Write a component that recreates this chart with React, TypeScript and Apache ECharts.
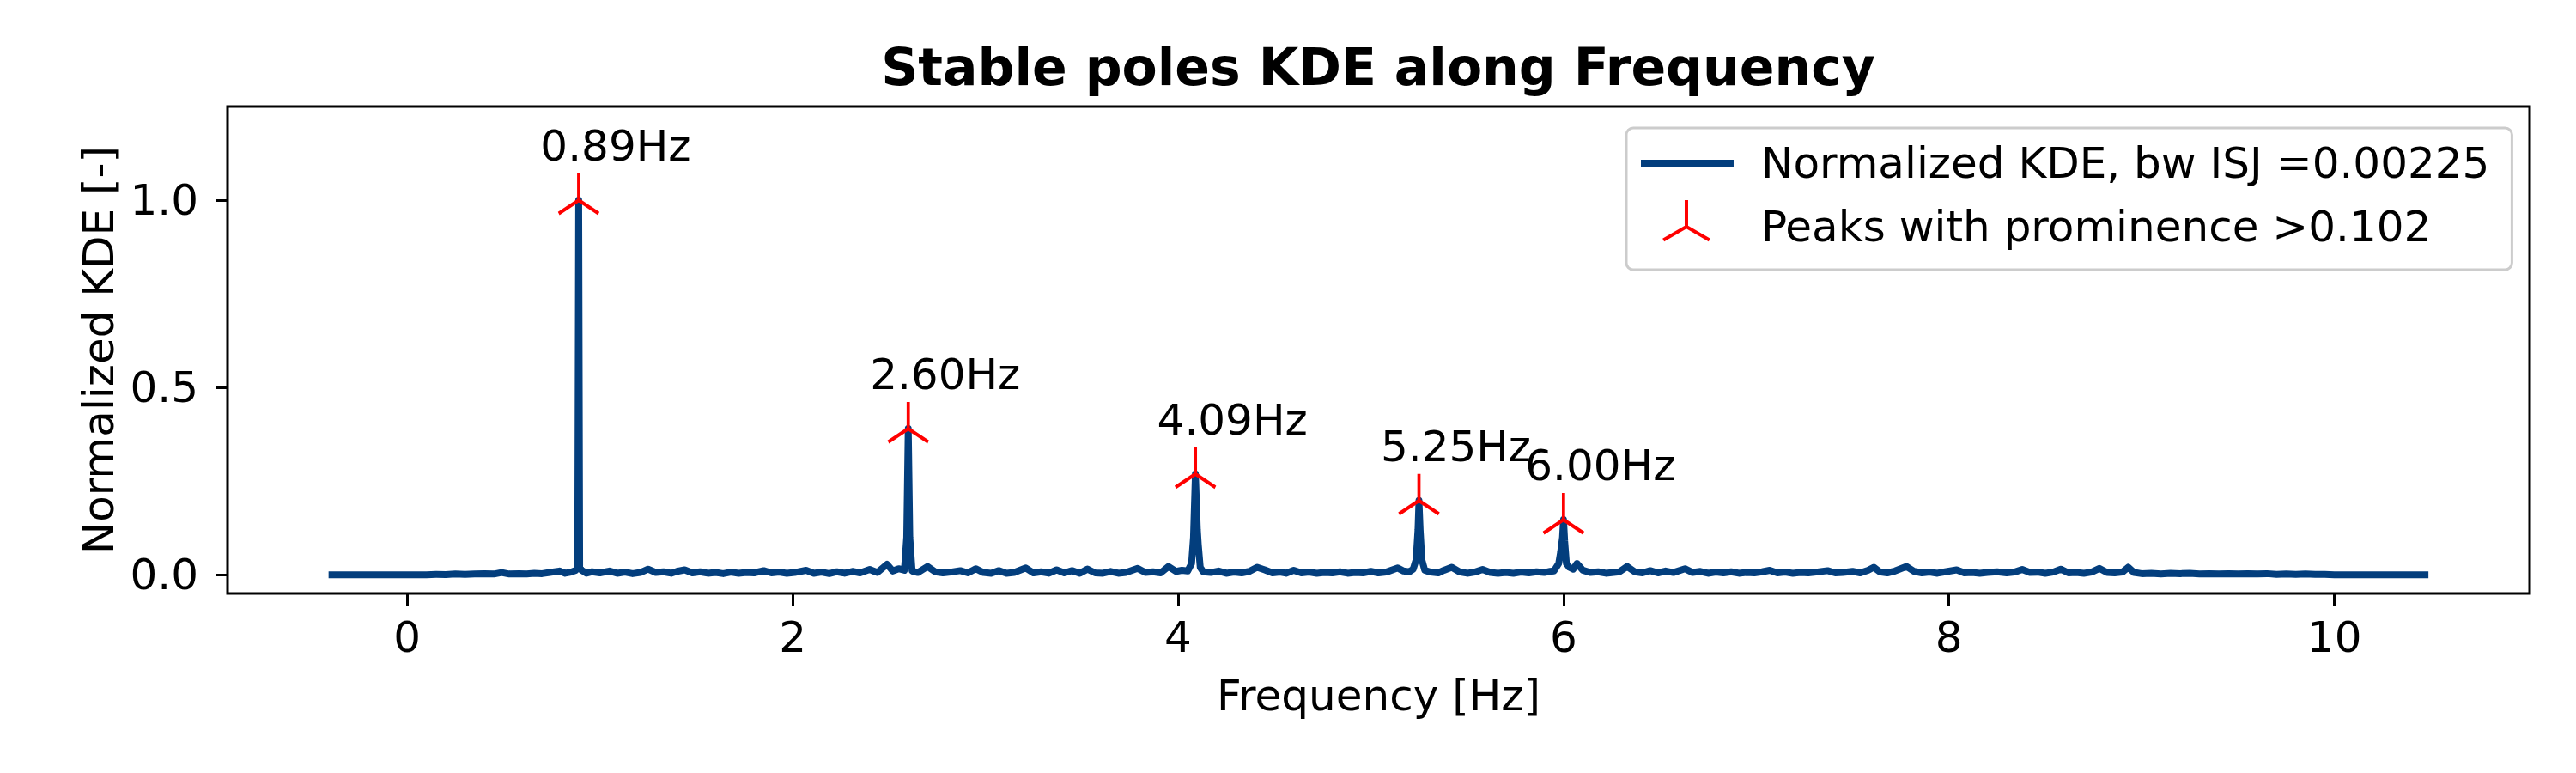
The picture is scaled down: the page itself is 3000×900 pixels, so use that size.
import { useEffect, useRef } from "react";
import * as echarts from "echarts";

// KDE curve, [frequency Hz, normalized KDE]
const kdeLow: [number, number][] = [
  [-0.39, 0], [0.1, 0], [0.15, 0.001], [0.2, 0.0005], [0.25, 0.002], [0.3, 0.001],
  [0.35, 0.002], [0.4, 0.003], [0.45, 0.002], [0.49, 0.006], [0.53, 0.002], [0.58, 0.003],
  [0.62, 0.002], [0.66, 0.004], [0.7, 0.003], [0.74, 0.006], [0.79, 0.01], [0.82, 0.004],
  [0.85, 0.007], [0.875, 0.012], [0.885, 0.02], [0.89, 1.0], [0.895, 0.02], [0.905, 0.012],
  [0.93, 0.004], [0.96, 0.008], [1.0, 0.005], [1.05, 0.01], [1.09, 0.004], [1.13, 0.007],
  [1.17, 0.003], [1.21, 0.006], [1.25, 0.015], [1.29, 0.006], [1.33, 0.008], [1.37, 0.004],
  [1.4, 0.009], [1.44, 0.013], [1.48, 0.005], [1.52, 0.008], [1.56, 0.004], [1.6, 0.006],
  [1.64, 0.003], [1.68, 0.007], [1.72, 0.004], [1.76, 0.006], [1.8, 0.005], [1.85, 0.011],
  [1.89, 0.005], [1.93, 0.007], [1.97, 0.004],
];

const kdeMid: [number, number][] = [
  [2.01, 0.006], [2.07, 0.012], [2.11, 0.004], [2.15, 0.007], [2.19, 0.003], [2.23, 0.008],
  [2.27, 0.004], [2.31, 0.009], [2.35, 0.005], [2.4, 0.014], [2.44, 0.006], [2.49, 0.028],
  [2.52, 0.01], [2.55, 0.016], [2.58, 0.012], [2.592, 0.1], [2.6, 0.39], [2.608, 0.1],
  [2.62, 0.01], [2.65, 0.006], [2.7, 0.022], [2.74, 0.008], [2.78, 0.005], [2.82, 0.007],
  [2.87, 0.011], [2.91, 0.005], [2.95, 0.016], [2.99, 0.006], [3.03, 0.004], [3.07, 0.011],
  [3.11, 0.004], [3.15, 0.006], [3.21, 0.018], [3.25, 0.005], [3.29, 0.008], [3.33, 0.004],
  [3.37, 0.013], [3.41, 0.005], [3.45, 0.011], [3.49, 0.004], [3.53, 0.015], [3.57, 0.005],
  [3.61, 0.004], [3.65, 0.009], [3.69, 0.004], [3.73, 0.006], [3.79, 0.017], [3.83, 0.006],
  [3.87, 0.008], [3.91, 0.005], [3.95, 0.022], [3.99, 0.009], [4.02, 0.012], [4.05, 0.01],
  [4.07, 0.03], [4.08, 0.1], [4.09, 0.269], [4.1, 0.12], [4.105, 0.08], [4.115, 0.02],
  [4.13, 0.008], [4.17, 0.006], [4.21, 0.01], [4.25, 0.004], [4.29, 0.007], [4.33, 0.005],
  [4.37, 0.009], [4.41, 0.02], [4.45, 0.013], [4.49, 0.005], [4.53, 0.007], [4.56, 0.004],
  [4.6, 0.012], [4.64, 0.005], [4.68, 0.007], [4.72, 0.004], [4.76, 0.006], [4.8, 0.005],
  [4.84, 0.008], [4.88, 0.004], [4.92, 0.006], [4.96, 0.005], [5.0, 0.009], [5.04, 0.005],
  [5.08, 0.007], [5.14, 0.018], [5.17, 0.01], [5.2, 0.008], [5.22, 0.015], [5.235, 0.04],
  [5.245, 0.12], [5.25, 0.198], [5.256, 0.12], [5.265, 0.04], [5.28, 0.012], [5.31, 0.007],
  [5.35, 0.005], [5.38, 0.012], [5.42, 0.02], [5.46, 0.008], [5.5, 0.004], [5.54, 0.007],
  [5.58, 0.014], [5.62, 0.006], [5.66, 0.004], [5.7, 0.006], [5.74, 0.004], [5.78, 0.007],
  [5.82, 0.005], [5.86, 0.008], [5.9, 0.006], [5.93, 0.009], [5.95, 0.01], [5.975, 0.03],
  [5.985, 0.06], [5.995, 0.1], [6.0, 0.147], [6.006, 0.09], [6.015, 0.03], [6.03, 0.02],
  [6.05, 0.015],
];

const kdeHigh: [number, number][] = [
  [6.07, 0.03], [6.1, 0.012], [6.14, 0.006], [6.18, 0.008], [6.22, 0.004], [6.26, 0.006],
  [6.29, 0.008], [6.33, 0.022], [6.37, 0.008], [6.41, 0.005], [6.45, 0.011], [6.49, 0.005],
  [6.53, 0.01], [6.57, 0.006], [6.63, 0.016], [6.67, 0.006], [6.71, 0.009], [6.75, 0.004],
  [6.79, 0.007], [6.83, 0.005], [6.87, 0.008], [6.91, 0.004], [6.95, 0.006], [6.99, 0.005],
  [7.03, 0.008], [7.07, 0.012], [7.11, 0.005], [7.15, 0.007], [7.19, 0.004], [7.23, 0.006],
  [7.27, 0.005], [7.31, 0.007], [7.37, 0.011], [7.41, 0.005], [7.45, 0.006], [7.5, 0.009],
  [7.54, 0.005], [7.58, 0.012], [7.61, 0.02], [7.64, 0.008], [7.68, 0.005], [7.72, 0.01],
  [7.78, 0.022], [7.82, 0.009], [7.86, 0.005], [7.9, 0.007], [7.94, 0.004], [7.98, 0.008],
  [8.04, 0.013], [8.08, 0.005], [8.12, 0.006], [8.16, 0.004], [8.2, 0.006], [8.25, 0.008],
  [8.3, 0.005], [8.34, 0.007], [8.38, 0.014], [8.42, 0.006], [8.46, 0.007], [8.5, 0.004],
  [8.54, 0.007], [8.58, 0.015], [8.62, 0.005], [8.66, 0.006], [8.7, 0.004], [8.74, 0.007],
  [8.78, 0.017], [8.82, 0.006], [8.86, 0.005], [8.9, 0.007], [8.93, 0.02], [8.96, 0.006],
  [9.0, 0.003], [9.05, 0.004], [9.1, 0.002], [9.15, 0.004], [9.2, 0.003], [9.25, 0.004],
  [9.3, 0.002], [9.35, 0.003], [9.4, 0.002], [9.45, 0.003], [9.5, 0.002], [9.55, 0.003],
  [9.6, 0.002], [9.65, 0.003], [9.7, 0.001], [9.75, 0.002], [9.8, 0.001], [9.85, 0.002],
  [9.9, 0.001], [9.95, 0.001], [10.0, 0], [10.47, 0],
];

const peakFreqs = [0.89, 2.6, 4.09, 5.25, 6.0];
const peakHeights = [1.0, 0.39, 0.269, 0.198, 0.147];
const peakLabels = ["0.89Hz", "2.60Hz", "4.09Hz", "5.25Hz", "6.00Hz"];

const xTicks = [0, 2, 4, 6, 8, 10];
const yTicks = [0, 0.5, 1.0];

const KDE_NAME = "Normalized KDE, bw ISJ =0.00225";
const PEAK_NAME = "Peaks with prominence >0.102";
const BLUE = "#033e7d";
const RED = "#ff0000";
const FONT = "DejaVu Sans";

// tri_up marker, bbox made symmetric so the centre sits on the point
const triMarker = "path://M0,-31 L0,0 M0,0 L-26.85,15.5 M0,0 L26.85,15.5 M0,31 L0,31.01";
const legendLine = "path://M0,27 L108,27 L108,35 L0,35 Z M135,0 L135,0.01 M0,62 L0,62.01";
const legendTri = "path://M53,0 L53,31 M53,31 L26.15,46.5 M53,31 L79.85,46.5 M0,62 L0,62.01 M135,0 L135,0.01";

export default function App() {
  const chartRef = useRef<HTMLDivElement>(null);

  useEffect(() => {
    const chart = echarts.init(chartRef.current!, null, { renderer: "svg" });

    const kde = [...kdeLow, ...kdeMid, ...kdeHigh];
    const peaks = peakFreqs.map((f, i) => [f, peakHeights[i]]);

    const option = {
      animation: false,
      title: {
        text: "Stable poles KDE along Frequency",
        left: 1605,
        top: 48,
        textAlign: "center",
        padding: 0,
        textStyle: {
          fontFamily: FONT,
          fontSize: 60,
          fontWeight: "bold",
          color: "#000",
          lineHeight: 60,
        },
      },
      legend: {
        orient: "vertical",
        left: 1894,
        top: 149,
        padding: [10, 26, 17, 15],
        itemGap: 10,
        itemWidth: 135,
        itemHeight: 62,
        selectedMode: false,
        backgroundColor: "#fff",
        borderColor: "#cccccc",
        borderWidth: 3,
        borderRadius: 8,
        textStyle: { fontFamily: FONT, fontSize: 50, color: "#000", padding: 0 },
        data: [
          { name: KDE_NAME, icon: legendLine, itemStyle: { color: BLUE, borderWidth: 0, opacity: 1 } },
          {
            name: PEAK_NAME,
            icon: legendTri,
            itemStyle: { color: "transparent", borderColor: RED, borderWidth: 4, opacity: 1 },
          },
        ],
      },
      grid: {
        left: 265,
        right: 54,
        top: 124,
        bottom: 209,
        show: true,
        borderColor: "#000",
        borderWidth: 3,
        outerBoundsMode: "none",
      },
      xAxis: {
        type: "value",
        min: -0.932,
        max: 11.013,
        name: "Frequency [Hz]",
        nameLocation: "middle",
        nameGap: 94,
        nameTextStyle: { fontFamily: FONT, fontSize: 50, color: "#000", lineHeight: 50 },
        axisLine: { show: false, onZero: false },
        splitLine: { show: false },
        axisTick: {
          show: true,
          length: 15,
          customValues: xTicks,
          lineStyle: { color: "#000", width: 3 },
        },
        axisLabel: {
          customValues: xTicks,
          margin: 26,
          fontFamily: FONT,
          fontSize: 50,
          color: "#000",
          formatter: (v: number) => String(v),
        },
      },
      yAxis: {
        type: "value",
        min: -0.05,
        max: 1.25,
        name: "Normalized KDE [-]",
        nameLocation: "middle",
        nameGap: 125,
        nameTextStyle: { fontFamily: FONT, fontSize: 50, color: "#000", lineHeight: 50 },
        axisLine: { show: false, onZero: false },
        splitLine: { show: false },
        axisTick: {
          show: true,
          length: 14,
          customValues: yTicks,
          lineStyle: { color: "#000", width: 3 },
        },
        axisLabel: {
          customValues: yTicks,
          margin: 34,
          fontFamily: FONT,
          fontSize: 50,
          color: "#000",
          formatter: (v: number) => v.toFixed(1),
        },
      },
      series: [
        {
          name: KDE_NAME,
          type: "line",
          data: kde,
          symbol: "none",
          showSymbol: false,
          z: 2,
          itemStyle: { color: BLUE },
          lineStyle: { color: BLUE, width: 8, join: "round", cap: "square" },
          emphasis: { disabled: true },
        },
        {
          name: PEAK_NAME,
          type: "scatter",
          data: peaks,
          symbol: triMarker,
          symbolSize: [53.7, 62.01],
          symbolKeepAspect: true,
          z: 3,
          itemStyle: { color: "transparent", borderColor: RED, borderWidth: 4, opacity: 1 },
          label: {
            show: true,
            position: "top",
            distance: 5,
            offset: [43, 0],
            fontFamily: FONT,
            fontSize: 50,
            lineHeight: 50,
            color: "#000",
            opacity: 1,
            textBorderWidth: 0,
            formatter: (p: { dataIndex: number }) => peakLabels[p.dataIndex],
          },
          emphasis: { disabled: true },
        },
      ],
    };

    chart.setOption(option);

    return () => {
      chart.dispose();
    };
  }, []);

  return (
    <div
      ref={chartRef}
      style={{ position: "absolute", left: 0, top: 0, width: 3000, height: 900 }}
    />
  );
}
